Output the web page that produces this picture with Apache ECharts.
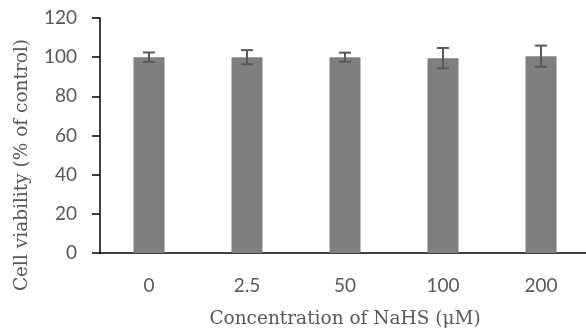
<!DOCTYPE html>
<html>
<head>
<meta charset="utf-8">
<script src="https://cdn.jsdelivr.net/npm/echarts@6/dist/echarts.min.js"></script>
<style>
  html, body { margin: 0; padding: 0; background: #fff; }
  #chart { width: 586px; height: 331px; }
</style>
</head>
<body>
<div id="chart"></div>
<script>
// NaHS concentrations (µM) on the category axis
const concentrations = ['0', '2.5', '50', '100', '200'];
// Mean cell viability (% of control)
const viability = [100, 100, 100, 99.5, 100.5];
// Standard deviation of each mean
const viabilitySD = [2.4, 3.6, 2.3, 5.2, 5.4];

const SANS = 'Lato, "Open Sans", sans-serif';
const SERIF = '"DejaVu Serif", "Liberation Serif", serif';

const chart = echarts.init(document.getElementById('chart'), null, { renderer: 'canvas' });

const errorData = viability.map((v, i) => [i, v - viabilitySD[i], v + viabilitySD[i]]);

chart.setOption({
  animation: false,
  backgroundColor: '#ffffff',
  grid: { left: 100, right: -4, top: 18, bottom: 78, containLabel: false, outerBoundsMode: 'none' },
  xAxis: {
    type: 'category',
    data: concentrations,
    axisLine: { lineStyle: { color: '#000000', width: 1.5 } },
    axisTick: { show: false },
    axisLabel: {
      color: '#595959',
      fontFamily: SANS,
      fontSize: 19,
      margin: 23
    },
    name: 'Concentration of NaHS (\u03bcM)',
    nameLocation: 'middle',
    nameGap: 57,
    nameTextStyle: {
      color: '#595959',
      fontFamily: SERIF,
      fontSize: 18.5
    }
  },
  yAxis: {
    type: 'value',
    min: 0,
    max: 120,
    interval: 20,
    splitLine: { show: false },
    axisLine: { show: true, lineStyle: { color: '#000000', width: 1.5 } },
    axisTick: { show: true, inside: false, length: 8, lineStyle: { color: '#000000', width: 1.5 } },
    axisLabel: {
      color: '#595959',
      fontFamily: SANS,
      fontSize: 19,
      margin: 23
    }
  },
  graphic: [{
    type: 'text',
    rotation: Math.PI / 2,
    x: 22,
    y: 165,
    style: {
      text: 'Cell viability (% of control)',
      fill: '#595959',
      font: '18.5px ' + SERIF,
      align: 'center',
      verticalAlign: 'middle'
    }
  }],
  series: [
    {
      type: 'bar',
      data: viability,
      barWidth: 31,
      itemStyle: { color: '#7f7f7f' }
    },
    {
      type: 'custom',
      data: errorData,
      z: 10,
      renderItem: function (params, api) {
        const x = api.coord([api.value(0), 0])[0];
        const lo = api.coord([api.value(0), api.value(1)])[1];
        const hi = api.coord([api.value(0), api.value(2)])[1];
        const half = 6;
        const style = { stroke: '#595959', lineWidth: 2 };
        return {
          type: 'group',
          children: [
            { type: 'line', shape: { x1: x, y1: hi, x2: x, y2: lo }, style: style },
            { type: 'line', shape: { x1: x - half, y1: hi, x2: x + half, y2: hi }, style: style },
            { type: 'line', shape: { x1: x - half, y1: lo, x2: x + half, y2: lo }, style: style }
          ]
        };
      }
    }
  ]
});
</script>
</body>
</html>
